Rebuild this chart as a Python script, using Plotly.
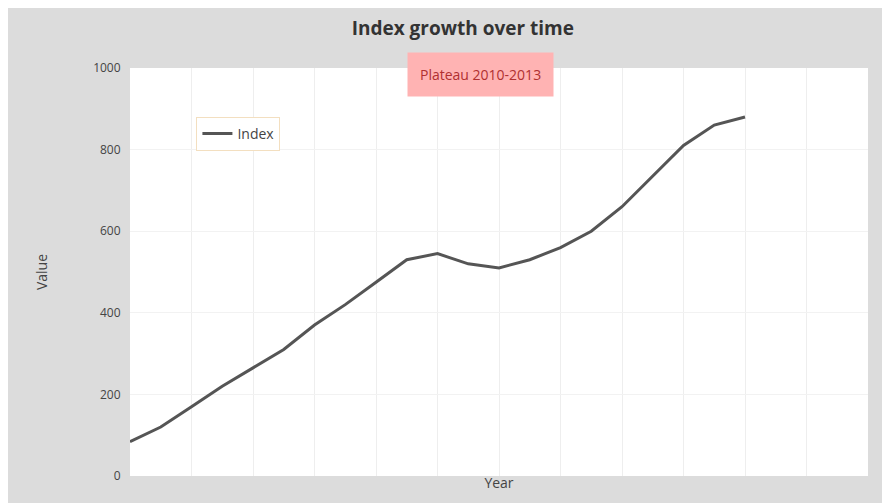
import plotly.graph_objects as go

# values (approximate)
years = list(range(2000, 2021))
values = [84, 120, 170, 220, 265, 310, 370, 420, 475, 530, 545,
          520, 510, 530, 560, 600, 660, 735, 810, 860, 880]

title_text = "<b>Index growth over time</b>"
note_text = "Plateau 2010-2013"

fig = go.Figure()
fig.add_trace(go.Scatter(x=years, y=values, mode="lines", name="Index",
                         line=dict(color="#555555", width=3)))

fig.add_annotation(text=note_text, xref="paper", yref="paper", x=0.475, y=1.04,
                   yanchor="top", showarrow=False,
                   font=dict(size=14, color="#b03030"),
                   bgcolor="#ffb3b3", borderpad=12)

fig.update_layout(
    width=890, height=503,
    title=dict(text=title_text, x=0.511, xanchor="center", y=0.972,
               font=dict(size=19, color="#333")),
    paper_bgcolor="#dcdcdc", plot_bgcolor="#ffffff",
    margin=dict(l=122, r=30, t=60, b=35),
    font=dict(family="Open Sans", color="#444"),
    legend=dict(x=0.09, y=0.88, bgcolor="#ffffff", bordercolor="#f3dfc0",
                borderwidth=1, font=dict(size=14)),
    showlegend=True,
)
fig.update_xaxes(range=[2000, 2024], dtick=2, gridcolor="#eeeeee",
                 title=dict(text="Year", standoff=2), showticklabels=False)
fig.update_yaxes(range=[0, 1000], dtick=200, gridcolor="#f2f2f2",
                 title=dict(text="Value", standoff=42), zeroline=False,
                 ticks="outside", ticklen=6, tickcolor="#dcdcdc")

fig.write_html("out.html")
